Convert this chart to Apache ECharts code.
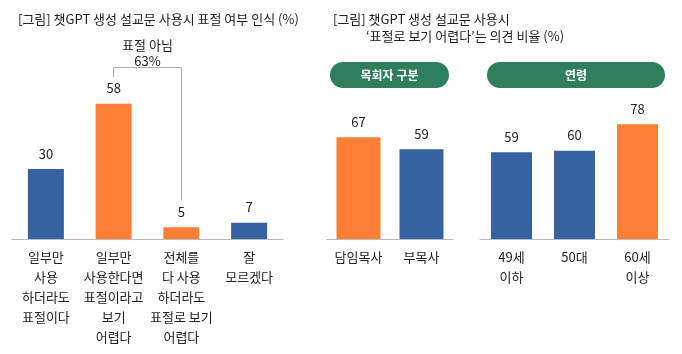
<!DOCTYPE html>
<html>
<head>
<meta charset="utf-8">
<script src="https://cdn.jsdelivr.net/npm/echarts@6/dist/echarts.min.js"></script>
<style>
  html, body { margin: 0; padding: 0; background: #fff; }
  #chart { width: 682px; height: 354px; }
</style>
</head>
<body>
<div id="chart"></div>
<script>
// 표절 여부 인식
const awareCats = ["일부만\n사용\n하더라도\n표절이다", "일부만\n사용한다면\n표절이라고\n보기\n어렵다", "전체를\n다 사용\n하더라도\n표절로 보기\n어렵다", "잘\n모르겠다"];
const awareVals = [30, 58, 5, 7];
const awareHighlight = [false, true, true, false];
// 목회자 구분
const roleCats = ["담임목사", "부목사"];
const roleVals = [67, 59];
const roleHighlight = [true, false];
// 연령
const ageCats = ["49세\n이하", "50대", "60세\n이상"];
const ageVals = [59, 60, 78];
const ageHighlight = [false, false, true];

const BLUE = "#3762a1";
const ORANGE = "#fe7f35";
const GREEN = "#2f7f5e";
const FONT = "'Noto Sans CJK KR', 'Noto Sans', sans-serif";

function barData(vals, hl) {
  return vals.map((v, i) => ({ value: v, itemStyle: { color: hl[i] ? ORANGE : BLUE } }));
}

let chart = echarts.init(document.getElementById("chart"));

const axisLabel = { color: "#222", fontSize: 13, lineHeight: 20, margin: 8, fontFamily: FONT, interval: 0 };
const axisLine = { lineStyle: { color: "#bbb", width: 1 } };
const valLabel = { show: true, position: "top", distance: 9, color: "#222", fontSize: 13, fontFamily: FONT };
const titleStyle = { fontSize: 13, fontWeight: "normal", color: "#222", fontFamily: FONT };

let option = {
  animation: false,
  textStyle: { fontFamily: FONT },
  title: [
    { text: "[그림] 챗GPT 생성 설교문 사용시 표절 여부 인식 (%)", left: 13, top: 8, textStyle: titleStyle },
    { text: "[그림] 챗GPT 생성 설교문 사용시", left: 328, top: 8, textStyle: titleStyle },
    { text: "‘표절로 보기 어렵다’는 의견 비율 (%)", left: 361, top: 25, textStyle: titleStyle }
  ],
  grid: [
    { left: 12, width: 271, top: 6, bottom: 115 },
    { left: 327, width: 126, top: 87, bottom: 115 },
    { left: 480, width: 189, top: 92, bottom: 115 }
  ],
  xAxis: [
    { type: "category", gridIndex: 0, data: awareCats, axisLine, axisTick: { show: false }, axisLabel },
    { type: "category", gridIndex: 1, data: roleCats, axisLine, axisTick: { show: false }, axisLabel },
    { type: "category", gridIndex: 2, data: ageCats, axisLine, axisTick: { show: false }, axisLabel }
  ],
  yAxis: [0, 1, 2].map(i => ({ type: "value", gridIndex: i, min: 0, max: 100, show: false })),
  graphic: [
    { type: "rect", shape: { x: 330, y: 62, width: 119, height: 26, r: 13 }, style: { fill: GREEN } },
    { type: "text", x: 389.5, y: 75, style: { text: "목회자 구분", fill: "#fff", font: "bold 12px " + FONT, align: "center", verticalAlign: "middle" } },
    { type: "rect", shape: { x: 487, y: 62, width: 178, height: 26, r: 13 }, style: { fill: GREEN } },
    { type: "text", x: 576, y: 75, style: { text: "연령", fill: "#fff", font: "bold 12px " + FONT, align: "center", verticalAlign: "middle" } }
  ],
  series: [
    {
      type: "bar", xAxisIndex: 0, yAxisIndex: 0, barWidth: 36,
      data: barData(awareVals, awareHighlight), label: valLabel,
      markLine: {
        silent: true, symbol: "none",
        lineStyle: { color: "#aaa", width: 1, type: "solid" },
        label: { show: false },
        data: [
          [{ coord: [awareCats[1], 69.5] }, { coord: [awareCats[1], 73.5] }],
          [{ coord: [awareCats[1], 73.5] }, { coord: [awareCats[2], 73.5] }],
          [{ coord: [awareCats[2], 73.5] }, { coord: [awareCats[2], 16.5] }]
        ]
      }
    },
    { type: "bar", xAxisIndex: 1, yAxisIndex: 1, barWidth: 44, data: barData(roleVals, roleHighlight), label: valLabel },
    { type: "bar", xAxisIndex: 2, yAxisIndex: 2, barWidth: 41, data: barData(ageVals, ageHighlight), label: valLabel }
  ]
};
chart.setOption(option);

// 표절 아님 63% 라벨 (브래킷 위 가운데)
const pA = chart.convertToPixel({ gridIndex: 0 }, [1, 73.5]);
const pB = chart.convertToPixel({ gridIndex: 0 }, [2, 73.5]);
chart.setOption({
  graphic: option.graphic.concat([
    { type: "text", x: (pA[0] + pB[0]) / 2, y: pA[1] + 1,
      style: { text: "표절 아님\n63%", fill: "#222", font: "13px " + FONT, align: "center", verticalAlign: "bottom", lineHeight: 16 } }
  ])
});
</script>
</body>
</html>
